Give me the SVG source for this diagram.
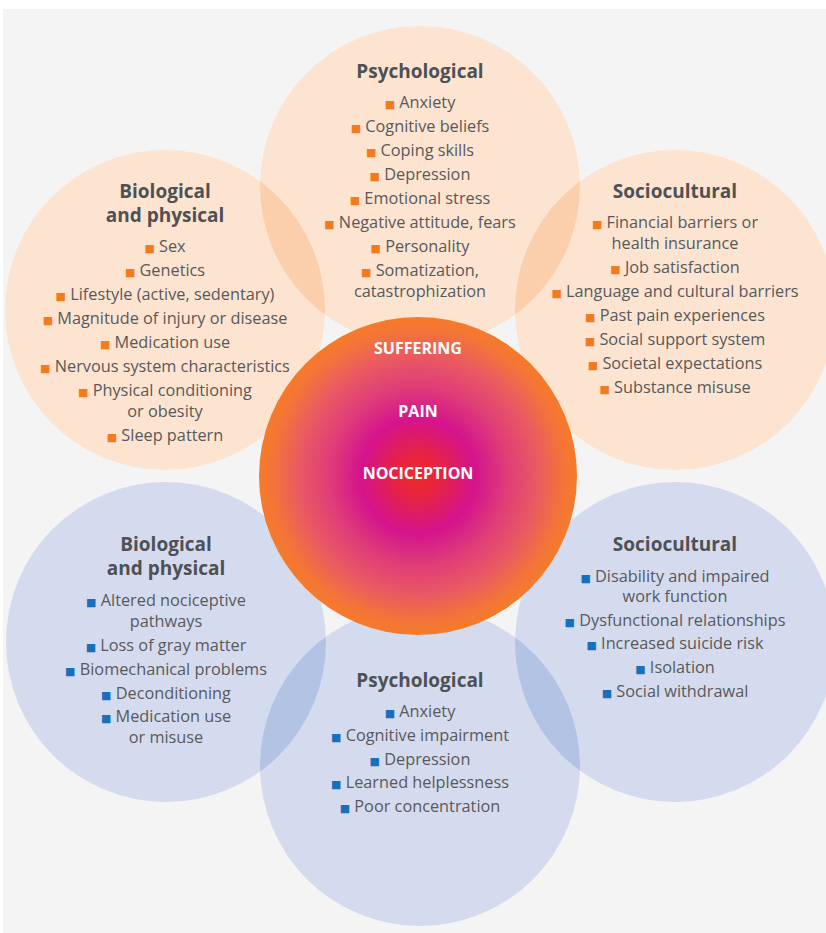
<svg xmlns="http://www.w3.org/2000/svg" width="826" height="933" viewBox="0 0 826 933">
<defs>
<style>
text{font-family:"Open Sans","Liberation Sans",sans-serif;text-anchor:middle}
.it{font-size:16.3px;fill:#58595b}
.t{font-size:19px;font-weight:700;fill:#4e5154}
.c{font-size:16px;font-weight:700;fill:#ffffff}
.bo{fill:#f47a20;font-family:"DejaVu Sans",sans-serif;font-size:11px}
.bb{fill:#1a6fba;font-family:"DejaVu Sans",sans-serif;font-size:11px}
.peach{fill:#fde4d1}
.peachL{fill:#fccfac}
.blue{fill:#d4dbee}
.blueL{fill:#b3c3e4}
</style>
<clipPath id="clipTop"><circle cx="420" cy="186" r="160"/></clipPath>
<clipPath id="clipBot"><circle cx="420" cy="766" r="160"/></clipPath>
<radialGradient id="core" cx="50%" cy="50%" r="50%">
<stop offset="0" stop-color="#ee2a2b"/>
<stop offset="0.13" stop-color="#e8233f"/>
<stop offset="0.36" stop-color="#d4138d"/>
<stop offset="0.56" stop-color="#df3d78"/>
<stop offset="0.76" stop-color="#ea5b60"/>
<stop offset="0.92" stop-color="#f37537"/>
<stop offset="1" stop-color="#f57b2a"/>
</radialGradient>
</defs>
<rect x="3" y="9" width="823" height="924" fill="#f4f4f4"/>
<g id="connectors"/>

<g id="bio-physical-top">
<circle class="peach" cx="165" cy="310" r="160"/>
<text class="t" x="165" y="198">Biological</text>
<text class="t" x="165" y="222">and physical</text>
<text class="it" x="165" y="252"><tspan class="bo">■</tspan> Sex</text>
<text class="it" x="165" y="276"><tspan class="bo">■</tspan> Genetics</text>
<text class="it" x="165" y="300"><tspan class="bo">■</tspan> Lifestyle (active, sedentary)</text>
<text class="it" x="165" y="324"><tspan class="bo">■</tspan> Magnitude of injury or disease</text>
<text class="it" x="165" y="348"><tspan class="bo">■</tspan> Medication use</text>
<text class="it" x="165" y="372"><tspan class="bo">■</tspan> Nervous system characteristics</text>
<text class="it" x="165" y="396"><tspan class="bo">■</tspan> Physical conditioning</text>
<text class="it" x="165" y="417">or obesity</text>
<text class="it" x="165" y="441"><tspan class="bo">■</tspan> Sleep pattern</text>
</g>

<g id="sociocultural-top">
<circle class="peach" cx="675" cy="310" r="160"/>
<text class="t" x="675" y="198">Sociocultural</text>
<text class="it" x="675" y="228"><tspan class="bo">■</tspan> Financial barriers or</text>
<text class="it" x="675" y="249">health insurance</text>
<text class="it" x="675" y="273"><tspan class="bo">■</tspan> Job satisfaction</text>
<text class="it" x="675" y="297"><tspan class="bo">■</tspan> Language and cultural barriers</text>
<text class="it" x="675" y="321"><tspan class="bo">■</tspan> Past pain experiences</text>
<text class="it" x="675" y="345"><tspan class="bo">■</tspan> Social support system</text>
<text class="it" x="675" y="369"><tspan class="bo">■</tspan> Societal expectations</text>
<text class="it" x="675" y="393"><tspan class="bo">■</tspan> Substance misuse</text>
</g>

<g id="psychological-top">
<circle class="peach" cx="420" cy="186" r="160"/>
<g clip-path="url(#clipTop)">
<circle class="peachL" cx="165" cy="310" r="160"/>
<circle class="peachL" cx="675" cy="310" r="160"/>
</g>
<text class="t" x="420" y="78">Psychological</text>
<text class="it" x="420" y="108"><tspan class="bo">■</tspan> Anxiety</text>
<text class="it" x="420" y="132"><tspan class="bo">■</tspan> Cognitive beliefs</text>
<text class="it" x="420" y="156"><tspan class="bo">■</tspan> Coping skills</text>
<text class="it" x="420" y="180"><tspan class="bo">■</tspan> Depression</text>
<text class="it" x="420" y="204"><tspan class="bo">■</tspan> Emotional stress</text>
<text class="it" x="420" y="228"><tspan class="bo">■</tspan> Negative attitude, fears</text>
<text class="it" x="420" y="252"><tspan class="bo">■</tspan> Personality</text>
<text class="it" x="420" y="276"><tspan class="bo">■</tspan> Somatization,</text>
<text class="it" x="420" y="297">catastrophization</text>
</g>

<g id="bio-physical-bottom">
<circle class="blue" cx="166" cy="642" r="160"/>
<text class="t" x="166" y="551">Biological</text>
<text class="t" x="166" y="575">and physical</text>
<text class="it" x="166" y="606"><tspan class="bb">■</tspan> Altered nociceptive</text>
<text class="it" x="166" y="627">pathways</text>
<text class="it" x="166" y="651"><tspan class="bb">■</tspan> Loss of gray matter</text>
<text class="it" x="166" y="675"><tspan class="bb">■</tspan> Biomechanical problems</text>
<text class="it" x="166" y="699"><tspan class="bb">■</tspan> Deconditioning</text>
<text class="it" x="166" y="722"><tspan class="bb">■</tspan> Medication use</text>
<text class="it" x="166" y="743">or misuse</text>
</g>

<g id="sociocultural-bottom">
<circle class="blue" cx="675" cy="642" r="160"/>
<text class="t" x="675" y="551">Sociocultural</text>
<text class="it" x="675" y="582"><tspan class="bb">■</tspan> Disability and impaired</text>
<text class="it" x="675" y="602">work function</text>
<text class="it" x="675" y="626"><tspan class="bb">■</tspan> Dysfunctional relationships</text>
<text class="it" x="675" y="649"><tspan class="bb">■</tspan> Increased suicide risk</text>
<text class="it" x="675" y="673"><tspan class="bb">■</tspan> Isolation</text>
<text class="it" x="675" y="697"><tspan class="bb">■</tspan> Social withdrawal</text>
</g>

<g id="psychological-bottom">
<circle class="blue" cx="420" cy="766" r="160"/>
<g clip-path="url(#clipBot)">
<circle class="blueL" cx="166" cy="642" r="160"/>
<circle class="blueL" cx="675" cy="642" r="160"/>
</g>
<text class="t" x="420" y="687">Psychological</text>
<text class="it" x="420" y="717"><tspan class="bb">■</tspan> Anxiety</text>
<text class="it" x="420" y="741"><tspan class="bb">■</tspan> Cognitive impairment</text>
<text class="it" x="420" y="765"><tspan class="bb">■</tspan> Depression</text>
<text class="it" x="420" y="788"><tspan class="bb">■</tspan> Learned helplessness</text>
<text class="it" x="420" y="812"><tspan class="bb">■</tspan> Poor concentration</text>
</g>

<g id="core">
<circle cx="418" cy="476" r="159" fill="url(#core)"/>
<text class="c" x="418" y="354">SUFFERING</text>
<text class="c" x="418" y="417">PAIN</text>
<text class="c" x="418" y="479">NOCICEPTION</text>
</g>
</svg>
